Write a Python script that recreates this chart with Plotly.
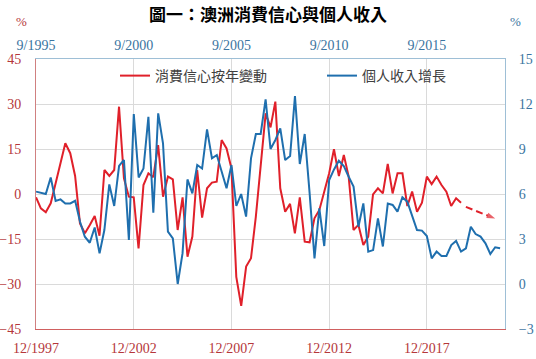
import plotly.graph_objects as go
import pandas as pd

# ---- data (quarterly) ----
confidence_yoy = [
    -1.1, -4.8, -6.1, -3.1, 3.5, 10.0, 16.9, 13.6, 6.0, -9.8,
    -13.1, -10.3, -7.3, -13.9, 8.0, 6.0, 8.0, 29.1, 5.2, -0.9,
    -1.1, -18.1, 3.0, 6.9, 5.6, 16.3, -0.9, 5.8, 4.9, -12.0,
    -1.1, -20.9, -14.2, 8.0, -7.9, 1.9, 3.8, 4.1, 18.0, 15.2,
    8.6, -27.6, -37.3, -24.2, -21.4, -7.6, 8.6, 26.9, 22.2, 30.8,
    1.9, -5.9, -3.3, -13.1, -1.1, -15.9, -16.1, -8.1, -5.3, 1.3,
    6.9, 14.9, 6.0, 13.0, 5.8, -12.0, -10.3, -17.0, -14.2, -0.1,
    1.9, 0.2, 10.0, 0.2, 6.9, 6.9, -4.0, 0.8, -5.9, -2.9,
    5.8, 3.3, 5.8, 3.0, 0.8, -4.0, -1.4, -2.9,
]
income_growth = [
    6.16, 6.10, 6.00, 7.10, 5.53, 5.64, 5.37, 5.37, 5.55, 4.15,
    3.15, 2.75, 3.77, 2.04, 3.60, 6.64, 5.20, 7.87, 8.27, 2.93,
    11.33, 7.10, 7.70, 11.15, 4.75, 11.38, 9.38, 3.49, 3.04, 0.00,
    2.04, 6.97, 6.04, 7.93, 7.70, 10.31, 8.38, 8.60, 7.49, 6.38,
    7.93, 5.20, 6.00, 4.49, 8.38, 10.00, 10.00, 12.31, 9.00, 9.60,
    10.38, 8.26, 8.53, 12.53, 8.00, 10.00, 6.04, 1.71, 5.04, 2.53,
    6.93, 7.64, 8.22, 7.87, 7.15, 6.49, 3.82, 5.37, 2.15, 2.26,
    4.38, 2.50, 5.36, 5.27, 4.82, 5.78, 5.49, 4.54, 3.60, 3.56,
    3.20, 1.71, 2.16, 1.87, 1.87, 2.60, 2.87, 2.16, 2.38, 3.82,
    3.33, 3.16, 2.71, 2.00, 2.45, 2.38,
]
conf_dates = pd.date_range("1997-12-01", periods=len(confidence_yoy), freq="3MS")
inc_dates = pd.date_range("1995-09-01", periods=len(income_growth), freq="3MS")

proj_dates = ["2019-12-01", "2021-06-01"]
proj_values = [-4.3, -8.2]

bottom_tickvals = ["1997-12-01", "2002-12-01", "2007-12-01", "2012-12-01", "2017-12-01"]
bottom_ticktext = ["12/1997", "12/2002", "12/2007", "12/2012", "12/2017"]
top_tickvals = ["1995-09-01", "2000-09-01", "2005-09-01", "2010-09-01", "2015-09-01"]
top_ticktext = ["9/1995", "9/2000", "9/2005", "9/2010", "9/2015"]

RED = "#E0202A"
BLUE = "#1F6FAE"
RED_TXT = "#B5373A"
BLUE_TXT = "#3A74A0"
SERIF = "Liberation Serif, Times New Roman, serif"
CJK = "Noto Sans CJK TC"

fig = go.Figure()
fig.add_trace(go.Scatter(
    x=conf_dates, y=confidence_yoy, mode="lines", name="消費信心按年變動",
    line=dict(color=RED, width=2), xaxis="x", yaxis="y",
))
fig.add_trace(go.Scatter(
    x=inc_dates, y=income_growth, mode="lines", name="個人收入增長",
    line=dict(color=BLUE, width=2), xaxis="x2", yaxis="y2",
))
fig.add_trace(go.Scatter(
    x=proj_dates, y=proj_values, mode="lines+markers", showlegend=False,
    line=dict(color=RED, width=2, dash="7px,4px"),
    marker=dict(symbol=["circle", "arrow"], size=[0, 9], color=RED,
                angleref="previous", line=dict(width=0)),
    xaxis="x", yaxis="y",
))

fig.update_layout(
    width=536, height=359,
    margin=dict(l=36, r=31, t=59, b=30, autoexpand=False),
    paper_bgcolor="white", plot_bgcolor="white",
    title=dict(text="<b>圖一：澳洲消費信心與個人收入</b>", x=0.5, xanchor="center",
               y=0.958, yanchor="middle",
               font=dict(family=CJK, size=17, color="black")),
    xaxis=dict(
        type="date", range=["1997-11-30", "2021-12-01"],
        tickmode="array", tickvals=bottom_tickvals, ticktext=bottom_ticktext,
        tickfont=dict(family=SERIF, size=14, color=RED_TXT),
        showgrid=True, gridcolor="#DADADA", gridwidth=1,
        showline=True, linecolor="#D06060", linewidth=1,
        ticks="", ticklabelstandoff=6, zeroline=False, automargin=False,
    ),
    xaxis2=dict(
        type="date", range=["1995-08-31", "2019-09-01"], overlaying="x", side="top",
        anchor="y",
        tickmode="array", tickvals=top_tickvals, ticktext=top_ticktext,
        tickfont=dict(family=SERIF, size=14, color=BLUE_TXT),
        showgrid=False, showline=True, linecolor="#9EBFD6", linewidth=1,
        ticks="", ticklabelstandoff=2, zeroline=False, automargin=False,
    ),
    yaxis=dict(
        range=[-45, 45], tickmode="linear", tick0=-45, dtick=15,
        tickfont=dict(family=SERIF, size=14, color=RED_TXT),
        showgrid=True, gridcolor="#DADADA", gridwidth=1,
        showline=True, linecolor="#D08080", linewidth=1,
        ticks="", ticklabelstandoff=11, zeroline=False, automargin=False,
    ),
    yaxis2=dict(
        range=[-3, 15], tickmode="linear", tick0=-3, dtick=3,
        overlaying="y", side="right", anchor="x",
        tickfont=dict(family=SERIF, size=14, color=BLUE_TXT),
        showgrid=False, showline=True, linecolor="#9EBFD6", linewidth=1,
        ticks="", ticklabelstandoff=10, zeroline=False, automargin=False,
    ),
    legend=dict(
        orientation="h", x=0.1684, xanchor="left", y=0.937, yanchor="middle",
        entrywidth=162, entrywidthmode="pixels",
        font=dict(family=CJK, size=14, color="#404040"),
        bgcolor="rgba(0,0,0,0)",
    ),
    annotations=[
        dict(text="%", xref="paper", yref="paper", x=-0.047, y=1.175,
             showarrow=False, font=dict(family=SERIF, size=13, color=RED_TXT)),
        dict(text="%", xref="paper", yref="paper", x=1.038, y=1.175,
             showarrow=False, font=dict(family=SERIF, size=13, color=BLUE_TXT)),
    ],
)

fig.write_html(
    "out.html",
    config={"displayModeBar": False},
    post_script="document.body.style.margin='0';document.body.style.overflow='hidden';",
)
